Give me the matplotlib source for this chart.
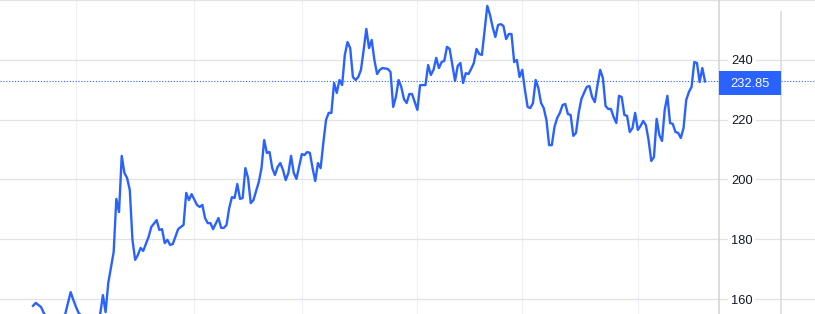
import matplotlib
matplotlib.use("Agg")
import matplotlib.pyplot as plt
from matplotlib.patches import Rectangle
import matplotlib.transforms as mtransforms

plt.rcParams['font.family'] = ['Liberation Sans', 'DejaVu Sans']

# trading-session index and closing price
sessions = [0, 1, 2, 3, 4, 6, 8, 10, 12, 14, 15, 16, 17, 19, 21, 23, 25, 26, 27, 28,
            30, 31, 32, 33, 34, 35, 36, 37, 38, 39, 40, 41, 43, 44, 46, 47, 48, 49, 50, 51,
            52, 54, 56, 57, 58, 59, 61, 62, 63, 64, 65, 66, 67, 69, 70, 71, 72, 73, 74, 75,
            76, 77, 78, 79, 80, 81, 82, 84, 85, 86, 87, 88, 89, 90, 91, 92, 93, 94, 95, 96,
            97, 98, 100, 101, 102, 103, 104, 105, 106, 107, 108, 109, 110, 111, 112, 113, 114, 115, 116, 117,
            118, 119, 120, 121, 122, 123, 124, 125, 126, 127, 128, 129, 130, 132, 133, 134, 135, 136, 137, 138,
            139, 140, 141, 142, 143, 144, 145, 146, 147, 148, 149, 150, 151, 152, 153, 154, 155, 156, 157, 158,
            159, 160, 161, 162, 163, 164, 165, 166, 167, 168, 169, 170, 171, 172, 173, 174, 175, 176, 177, 178,
            179, 180, 181, 182, 183, 184, 185, 186, 187, 188, 189, 190, 191, 192, 193, 194, 195, 196, 197, 198,
            199, 200, 201, 202, 203, 204, 205, 206, 207, 208, 209, 210, 211, 212, 213, 214, 215, 216, 217, 218,
            219, 220, 221, 222, 223, 224, 225, 226, 227, 228, 229, 230, 231, 232, 233, 234, 235, 236, 237, 238,
            239, 240, 241, 242, 243, 244, 245, 246, 247, 248, 249, 250]
closes = [157.7, 158.7, 158.0, 157.3, 155.3, 153.0, 151.8, 152.5, 155.0, 162.3, 159.7, 157.3, 155.3, 153.5, 152.0, 152.8, 155.0, 161.3, 155.6, 165.4,
          175.7, 193.5, 189.1, 207.9, 202.2, 200.5, 196.5, 179.8, 173.1, 174.7, 177.1, 176.1, 180.8, 184.1, 186.4, 183.1, 183.4, 178.7, 179.8, 178.1,
          178.4, 183.4, 184.8, 195.5, 193.1, 195.1, 191.5, 190.8, 191.5, 187.1, 185.4, 185.4, 183.4, 187.1, 183.8, 183.8, 184.8, 190.5, 194.1, 193.8,
          198.5, 193.5, 193.8, 203.8, 200.5, 192.1, 193.1, 199.2, 203.8, 213.2, 208.9, 209.2, 203.8, 201.5, 204.2, 205.5, 203.2, 199.8, 202.2, 207.9,
          202.2, 200.2, 208.5, 208.2, 209.2, 208.9, 203.8, 199.5, 205.5, 203.8, 212.2, 219.9, 222.3, 222.3, 232.3, 229.0, 233.3, 231.6, 241.7, 246.0,
          244.0, 234.3, 233.3, 234.3, 236.7, 243.3, 250.4, 244.0, 246.7, 240.0, 235.3, 236.7, 237.3, 237.0, 236.0, 224.3, 227.6, 233.3, 231.0, 226.9,
          225.6, 228.6, 228.6, 225.9, 223.3, 231.6, 231.6, 231.6, 238.3, 235.0, 236.7, 240.7, 237.3, 239.3, 239.7, 244.4, 243.7, 238.3, 233.0, 238.0,
          239.0, 232.3, 235.6, 235.3, 237.0, 239.0, 243.7, 242.0, 241.7, 250.0, 258.1, 255.1, 251.0, 247.7, 251.7, 252.0, 251.4, 247.0, 248.7, 248.7,
          239.3, 240.0, 234.3, 236.7, 230.0, 224.3, 223.9, 225.6, 233.3, 230.6, 225.6, 223.9, 219.9, 211.5, 211.5, 217.6, 220.6, 222.3, 224.9, 225.3,
          221.9, 221.6, 214.6, 215.6, 222.3, 226.9, 229.0, 231.0, 231.3, 227.6, 225.9, 231.6, 236.7, 234.0, 224.6, 223.6, 223.6, 220.9, 218.9, 228.0,
          227.6, 221.6, 221.3, 215.9, 217.2, 222.3, 216.6, 217.9, 219.6, 218.2, 213.2, 206.2, 207.5, 220.3, 214.9, 212.9, 223.3, 228.0, 218.9, 218.6,
          215.9, 215.6, 213.9, 217.2, 226.6, 229.3, 231.0, 239.3, 239.0, 232.6, 237.3, 232.85]

price_ticks = [160, 180, 200, 220, 240, 260]
price_labels = ["160", "180", "200", "220", "240"]
month_lines = [16, 60, 100, 143, 182, 225]
last_price = closes[-1]

BLUE = '#2962ff'
HGRID = '#e2e2e2'
VGRID = '#edf0f4'
YLIM = (154.98, 260.08)

fig = plt.figure(figsize=(8.15, 3.14), dpi=100)
split = 719 / 815
ax = fig.add_axes([0, 0, split, 1])
panel = fig.add_axes([split, 0, 1 - split, 1])

# main plot
ax.set_xlim(-12.28, 255.2)
ax.set_ylim(*YLIM)
ax.set_yticks(price_ticks)
ax.set_xticks(month_lines)
ax.yaxis.grid(True, color=HGRID, lw=0.9)
ax.xaxis.grid(True, color=VGRID, lw=0.9)
ax.set_axisbelow(True)
ax.tick_params(length=0, labelleft=False, labelbottom=False)
for s in ax.spines.values():
    s.set_visible(False)
ax.plot(sessions, closes, color=BLUE, lw=1.7, solid_joinstyle='round', zorder=3)
ax.axhline(last_price, color=BLUE, lw=0.8, linestyle=(0, (1, 1.6)), zorder=2)

# price scale panel
panel.set_xlim(0, 1)
panel.set_ylim(*YLIM)
panel.set_yticks(price_ticks)
panel.set_xticks([])
panel.yaxis.grid(True, color=HGRID, lw=0.9)
panel.set_axisbelow(True)
panel.tick_params(length=0, labelleft=False)
for name, s in panel.spines.items():
    s.set_visible(name == 'left')
panel.spines['left'].set_color('#d6d6d6')
panel.spines['left'].set_linewidth(1.2)
panel.axvline(62 / 96, ymin=0, ymax=1 - 12 / 314, color='#dcdcdc', lw=1.2)

for lbl in price_labels:
    panel.text(12 / 96, float(lbl), lbl, ha='left', va='center_baseline', fontsize=9.3,
               color='#131722', bbox=dict(fc='white', ec='none', pad=2))

panel.axhline(last_price, xmin=62 / 96, xmax=1, color=BLUE, lw=0.8, linestyle=(0, (1, 1.6)))
trans = mtransforms.blended_transform_factory(panel.transAxes, panel.transData)
box_mid = last_price - 0.5
panel.add_patch(Rectangle((0, box_mid - 4.0), 62 / 96, 8.0, transform=trans,
                          facecolor=BLUE, edgecolor='none', zorder=4))
panel.text(31 / 96, box_mid, f"{last_price:.2f}", transform=trans, ha='center', va='center_baseline',
           fontsize=9.3, color='white', zorder=5)

fig.savefig('out.png', dpi=100)
